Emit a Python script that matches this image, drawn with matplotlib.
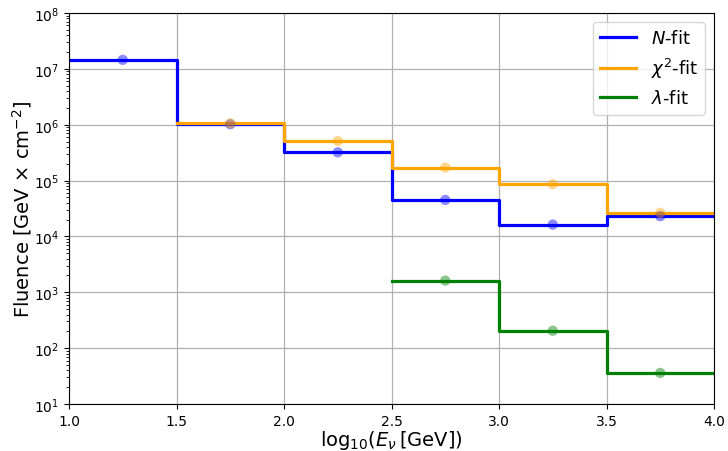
import numpy as np
import matplotlib.pyplot as plt

# bin edges in log10(E/GeV)
edges_n = [1.0, 1.5, 2.0, 2.5, 3.0, 3.5, 4.0]
edges_chi = [1.5, 2.0, 2.5, 3.0, 3.5, 4.0]
edges_lam = [2.5, 3.0, 3.5, 4.0]

# fluence per bin
fluence_n = [1.45e7, 1.02e6, 3.2e5, 4.5e4, 1.63e4, 2.3e4]
fluence_chi = [1.06e6, 5.1e5, 1.71e5, 8.6e4, 2.64e4]
fluence_lam = [1.62e3, 2.05e2, 36]

fig = plt.figure(figsize=(7.28, 4.52), dpi=100)
ax = fig.add_axes([69/728, 1 - 405/452, (714-69)/728, (405-14)/452])

series = [
    (edges_n, fluence_n, 'blue', r'$N$-fit'),
    (edges_chi, fluence_chi, 'orange', r'$\chi^2$-fit'),
    (edges_lam, fluence_lam, 'green', r'$\lambda$-fit'),
]
for edges, vals, c, lab in series:
    e = np.array(edges)
    v = np.append(vals, vals[-1])
    ax.step(e, v, where='post', color=c, lw=2.3, label=lab)
    centers = 0.5 * (e[1:] + e[:-1])
    ax.scatter(centers, vals, color=c, alpha=0.45, s=55, zorder=3, edgecolors='none')

ax.set_yscale('log')
ax.set_xlim(1, 4)
ax.set_ylim(1e1, 1e8)
ax.grid(True, which='major', color='#b0b0b0', lw=0.9)
ax.tick_params(labelsize=10)
ax.set_xlabel(r'log$_{10}$($E_\nu\,$[GeV])', fontsize=14, labelpad=0)
ax.set_ylabel(r'Fluence [GeV $\times$ cm$^{-2}$]', fontsize=14, labelpad=0)
ax.legend(loc='upper right', fontsize=13)

fig.savefig('out.png', dpi=100)
